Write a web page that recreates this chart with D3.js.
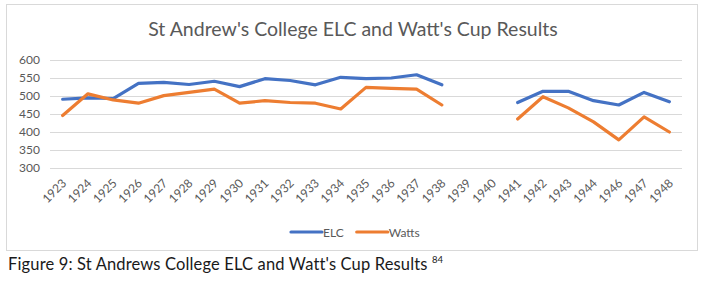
<!DOCTYPE html>
<html>
<head>
<meta charset="utf-8">
<script src="https://cdn.jsdelivr.net/npm/d3@7"></script>
<style>
  body { margin: 0; background: #fff; }
  svg text { font-family: Lato, "Open Sans", sans-serif; }
</style>
</head>
<body>
<div id="chart"></div>
<script>
const years = ['1923', '1924', '1925', '1926', '1927', '1928', '1929', '1930', '1931',
  '1932', '1933', '1934', '1935', '1936', '1937', '1938', '1939', '1940', '1941',
  '1942', '1943', '1944', '1946', '1947', '1948'];
const elc = [491, 495, 493, 535, 538, 532, 541, 526, 548, 543, 531, 552, 548, 550, 559, 531,
  null, null, 482, 513, 513, 487, 475, 510, 484];
const watts = [446, 506, 489, 480, 501, 510, 519, 480, 487, 482, 480, 464, 524, 521, 519, 475,
  null, null, 436, 498, 467, 428, 378, 442, 400];
const yTicks = [300, 350, 400, 450, 500, 550, 600];

const W = 708, H = 282;
const margin = { top: 60, right: 26, bottom: 114, left: 50 };
const width = W - margin.left - margin.right,
  height = H - margin.top - margin.bottom;

const svg = d3.select('#chart').append('svg')
  .attr('width', W)
  .attr('height', H);

// chart frame
svg.append('rect')
  .attr('x', 6.5).attr('y', 4.5)
  .attr('width', 691).attr('height', 246)
  .attr('fill', '#fff')
  .attr('stroke', '#d9d9d9');

svg.append('text')
  .attr('x', 353)
  .attr('y', 36)
  .attr('text-anchor', 'middle')
  .attr('fill', '#595959')
  .style('font-size', '19.5px')
  .text("St Andrew's College ELC and Watt's Cup Results");

const g = svg.append('g')
  .attr('transform', 'translate(' + margin.left + ',' + margin.top + ')');

const x = d3.scalePoint().domain(years).range([0, width]).padding(0.5);
const y = d3.scaleLinear().domain([300, 600]).range([height, 0]);

// gridlines + y labels
const yAxis = g.append('g')
  .call(d3.axisLeft(y).tickValues(yTicks).tickSize(-width).tickPadding(10));
yAxis.select('.domain').remove();
yAxis.selectAll('.tick line').attr('stroke', '#d9d9d9');
yAxis.selectAll('.tick text')
  .attr('fill', '#595959')
  .style('font-size', '12px');

// x labels rotated
const xAxis = g.append('g')
  .attr('transform', 'translate(0,' + height + ')')
  .call(d3.axisBottom(x).tickSize(0).tickPadding(0));
xAxis.select('.domain').remove();
xAxis.selectAll('.tick text')
  .attr('fill', '#595959')
  .style('font-size', '12px')
  .attr('text-anchor', 'end')
  .attr('dy', null)
  .attr('transform', 'translate(4,16) rotate(-45)');

const series = [
  { name: 'ELC', values: elc, color: '#4472c4' },
  { name: 'Watts', values: watts, color: '#ed7d31' },
];

const line = d3.line()
  .defined((d) => d.v != null)
  .x((d) => x(d.year))
  .y((d) => y(d.v));

series.forEach((s) => {
  g.append('path')
    .datum(years.map((yr, i) => ({ year: yr, v: s.values[i] })))
    .attr('fill', 'none')
    .attr('stroke', s.color)
    .attr('stroke-width', 3.2)
    .attr('stroke-linejoin', 'round')
    .attr('stroke-linecap', 'round')
    .attr('d', line);
});

// legend
const legend = svg.append('g').attr('transform', 'translate(291,232)');
let lx = 0;
series.forEach((s) => {
  legend.append('line')
    .attr('x1', lx).attr('x2', lx + 31)
    .attr('y1', 0).attr('y2', 0)
    .attr('stroke', s.color)
    .attr('stroke-width', 3.2)
    .attr('stroke-linecap', 'round');
  const t = legend.append('text')
    .attr('x', lx + 32)
    .attr('y', 4.5)
    .attr('fill', '#595959')
    .style('font-size', '12px')
    .text(s.name);
  lx += 33 + t.node().getComputedTextLength() + 12;
});

// caption
const cap = svg.append('text')
  .attr('x', 8)
  .attr('y', 270)
  .attr('fill', '#1a1a1a')
  .style('font-size', '16.5px')
  .style('letter-spacing', '0.15px')
  .text("Figure 9: St Andrews College ELC and Watt's Cup Results ");
cap.append('tspan')
  .attr('dy', -7)
  .style('font-size', '9.5px')
  .style('letter-spacing', '0')
  .text('84');
</script>
</body>
</html>
